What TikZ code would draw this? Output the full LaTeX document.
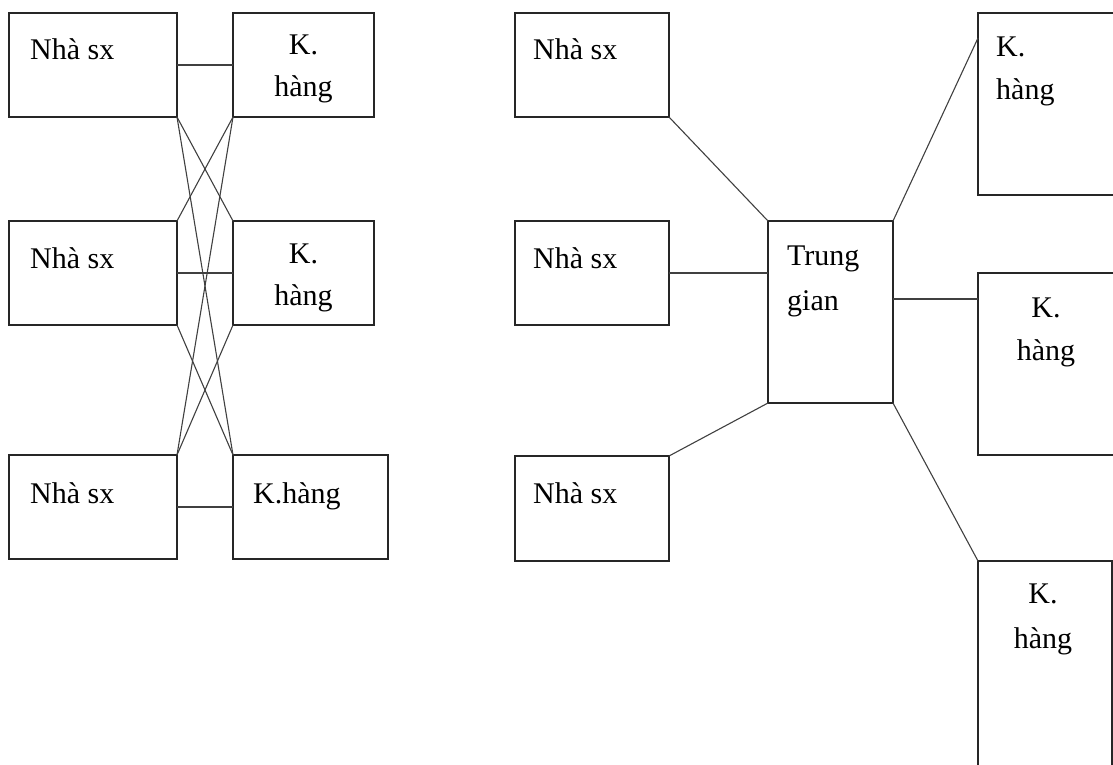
\documentclass[tikz,border=0pt]{standalone}
\usepackage{fontspec}
\setmainfont{Liberation Serif}
\usetikzlibrary{calc}
\tikzset{
  box/.style={draw=black!85, rectangle, inner sep=0pt, outer sep=0pt, line width=1.2pt},
  conn/.style={-, line width=1.1pt, black!75},
  txt/.style={inner sep=0pt, font=\fontsize{30}{36}\selectfont}
}
\begin{document}
\begin{tikzpicture}[x=1pt, y=-1pt]
  \useasboundingbox (0, 0) rectangle (1113, 765);
  % left: every producer to every customer
  \node[box, minimum width=168, minimum height=104] at (93, 65) (ns1) {};
  \node[box, minimum width=168, minimum height=104] at (93, 273) (ns2) {};
  \node[box, minimum width=168, minimum height=104] at (93, 507) (ns3) {};
  \node[box, minimum width=141, minimum height=104] at (303.5, 65) (kh1) {};
  \node[box, minimum width=141, minimum height=104] at (303.5, 273) (kh2) {};
  \node[box, minimum width=155, minimum height=104] at (310.5, 507) (kh3) {};
  \node[txt, anchor=base west] at (30, 60) (ns1t) {Nhà sx};
  \node[txt, anchor=base west] at (30, 268) (ns2t) {Nhà sx};
  \node[txt, anchor=base west] at (30, 503) (ns3t) {Nhà sx};
  \node[txt, anchor=base] at (303.5, 55) (kh1a) {K.};
  \node[txt, anchor=base] at (303.5, 97) (kh1b) {hàng};
  \node[txt, anchor=base] at (303.5, 263) (kh2a) {K.};
  \node[txt, anchor=base] at (303.5, 305) (kh2b) {hàng};
  \node[txt, anchor=base west] at (253, 503) (kh3t) {K.hàng};
  \draw[conn] (ns1.east) -- (kh1.west);
  \draw[conn] (ns2.east) -- (kh2.west);
  \draw[conn] (ns3.east) -- (kh3.west);
  \draw[conn] (ns1.south east) -- (kh2.north west);
  \draw[conn] (ns1.south east) -- (kh3.north west);
  \draw[conn] (ns2.south east) -- (kh3.north west);
  \draw[conn] (kh1.south west) -- (ns2.north east);
  \draw[conn] (kh1.south west) -- (ns3.north east);
  \draw[conn] (kh2.south west) -- (ns3.north east);
  % right: through the middleman
  \node[box, minimum width=154, minimum height=104] at (592, 65) (rs1) {};
  \node[box, minimum width=154, minimum height=104] at (592, 273) (rs2) {};
  \node[box, minimum width=154, minimum height=105] at (592, 508.5) (rs3) {};
  \node[box, minimum width=125, minimum height=182] at (830.5, 312) (tg) {};
  \node[box, minimum width=136, minimum height=182] at (1046, 104) (rk1) {};
  \node[box, minimum width=136, minimum height=182] at (1046, 364) (rk2) {};
  \node[box, minimum width=134, minimum height=220] at (1045, 671) (rk3) {};
  \node[txt, anchor=base west] at (533, 60) (rs1t) {Nhà sx};
  \node[txt, anchor=base west] at (533, 268) (rs2t) {Nhà sx};
  \node[txt, anchor=base west] at (533, 503) (rs3t) {Nhà sx};
  \node[txt, anchor=base west] at (787, 265) (tga) {Trung};
  \node[txt, anchor=base west] at (787, 310) (tgb) {gian};
  \node[txt, anchor=base west] at (996, 57) (rk1a) {K.};
  \node[txt, anchor=base west] at (996, 100) (rk1b) {hàng};
  \node[txt, anchor=base] at (1046, 317) (rk2a) {K.};
  \node[txt, anchor=base] at (1046, 360) (rk2b) {hàng};
  \node[txt, anchor=base] at (1043, 603) (rk3a) {K.};
  \node[txt, anchor=base] at (1043, 648) (rk3b) {hàng};
  \coordinate (rk1l) at ($(rk1.north west)+(0, 25)$);
  \coordinate (tgr) at ($(tg.east)+(0, -13)$);
  \draw[conn] (rs1.south east) -- (tg.north west);
  \draw[conn] (rs2.east) -- (rs2.east -| tg.west);
  \draw[conn] (rs3.north east) -- (tg.south west);
  \draw[conn] (tg.north east) -- (rk1l);
  \draw[conn] (tgr) -- (tgr -| rk2.west);
  \draw[conn] (tg.south east) -- (rk3.north west);
\end{tikzpicture}
\end{document}
